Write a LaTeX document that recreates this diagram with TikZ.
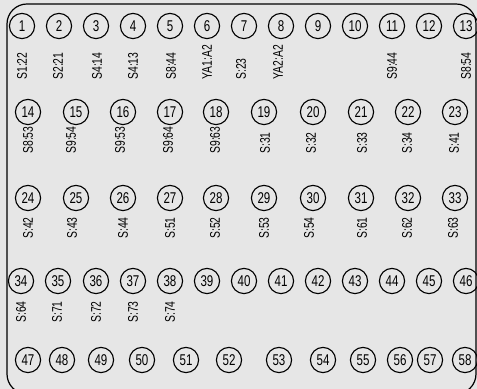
\documentclass[tikz,border=0pt]{standalone}
\usepackage{fontspec}
\setsansfont{Liberation Sans}
\usetikzlibrary{calc}
\definecolor{panelgray}{HTML}{E6E6E6}
\tikzstyle{pin}=[circle,draw,line width=0.55pt,minimum size=12.6pt,inner sep=0pt,font=\sffamily\fontsize{7.8}{7.8}\selectfont]
\tikzstyle{tag}=[rotate=90,anchor=west,inner sep=0pt,font=\sffamily\fontsize{7}{7}\selectfont]
\newcommand{\narrow}[1]{\scalebox{0.74}[1]{#1}}

\begin{document}
\begin{tikzpicture}[x=0.5pt,y=-0.5pt]
    % panel
    \useasboundingbox[fill=panelgray] (0,0) rectangle (477,389);
    \clip (0,0) rectangle (477,389);
    \draw[line width=0.6pt,rounded corners=10] (7,4) rectangle (476,394);

    % First row of terminals
    \foreach \pos/ \name in {{(22,26)/1},{(59,26)/2},{(96,26)/3},{(133,26)/4},{(170,26)/5},{(207,26)/6},{(244,26)/7},
        {(281,26)/8},{(318,26)/9},{(355,26)/10},{(392,26)/11},{(429,26)/12},{(466,26)/13}}
        \node[pin] (p\name) at \pos {\narrow{\name}};

    \foreach \pos/ \name/ \text in {{(22,80)/1/S1:22},{(58,80)/2/S2:21},{(97,80)/3/S4:14},{(133,80)/4/S4:13},
        {(171,80)/5/S8:44},{(207,80)/6/YA1:A2},{(241,80)/7/S:23},{(278,80)/8/YA2:A2},{(392,80)/11/S9:44},{(466,80)/13/S8:54}}
        \node[tag] (t\name) at \pos {\narrow{\text}};

    % Second row
    \foreach \pos/ \name in {{(28,112)/14},{(76,112)/15},{(123,112)/16},{(170,112)/17},{(216,112)/18},
        {(264,112)/19},{(313,112)/20},{(361,112)/21},{(408,112)/22},{(455,112)/23}}
        \node[pin] (p\name) at \pos {\narrow{\name}};

    \foreach \pos/ \name/ \text in {{(28,154)/14/S8:53},{(71,154)/15/S9:54},{(120,154)/16/S9:53},{(168,154)/17/S9:64},
        {(215,154)/18/S9:63},{(265,154)/19/S:31},{(311,154)/20/S:32},{(362,154)/21/S:33},{(407,154)/22/S:34},{(454,154)/23/S:41}}
        \node[tag] (t\name) at \pos {\narrow{\text}};

    % Third row
    \foreach \pos/ \name in {{(28,198)/24},{(76,198)/25},{(123,198)/26},{(170,198)/27},{(216,198)/28},
        {(264,198)/29},{(313,198)/30},{(361,198)/31},{(408,198)/32},{(455,198)/33}}
        \node[pin] (p\name) at \pos {\narrow{\name}};

    \foreach \pos/ \name/ \text in {{(28,239)/24/S:42},{(72,239)/25/S:43},{(123,239)/26/S:44},{(170,239)/27/S:51},
        {(215,239)/28/S:52},{(264,239)/29/S:53},{(309,239)/30/S:54},{(362,239)/31/S:61},{(407,239)/32/S:62},{(453,239)/33/S:63}}
        \node[tag] (t\name) at \pos {\narrow{\text}};

    % Fourth row
    \foreach \pos/ \name in {{(21,281)/34},{(58,281)/35},{(96,281)/36},{(133,281)/37},{(170,281)/38},{(207,281)/39},{(244,281)/40},
        {(281,281)/41},{(318,281)/42},{(355,281)/43},{(392,281)/44},{(429,281)/45},{(466,281)/46}}
        \node[pin] (p\name) at \pos {\narrow{\name}};

    \foreach \pos/ \name/ \text in {{(21,323)/34/S:64},{(57,323)/35/S:71},{(96,323)/36/S:72},{(133,323)/37/S:73},{(170,323)/38/S:74}}
        \node[tag] (t\name) at \pos {\narrow{\text}};

    % Fifth row
    \foreach \pos/ \name in {{(28,360)/47},{(62,360)/48},{(101,360)/49},{(142,360)/50},{(186,360)/51},{(229,360)/52},
        {(279,360)/53},{(323,360)/54},{(363,360)/55},{(400,360)/56},{(430,360)/57},{(465,360)/58}}
        \node[pin] (p\name) at \pos {\narrow{\name}};
\end{tikzpicture}
\end{document}
